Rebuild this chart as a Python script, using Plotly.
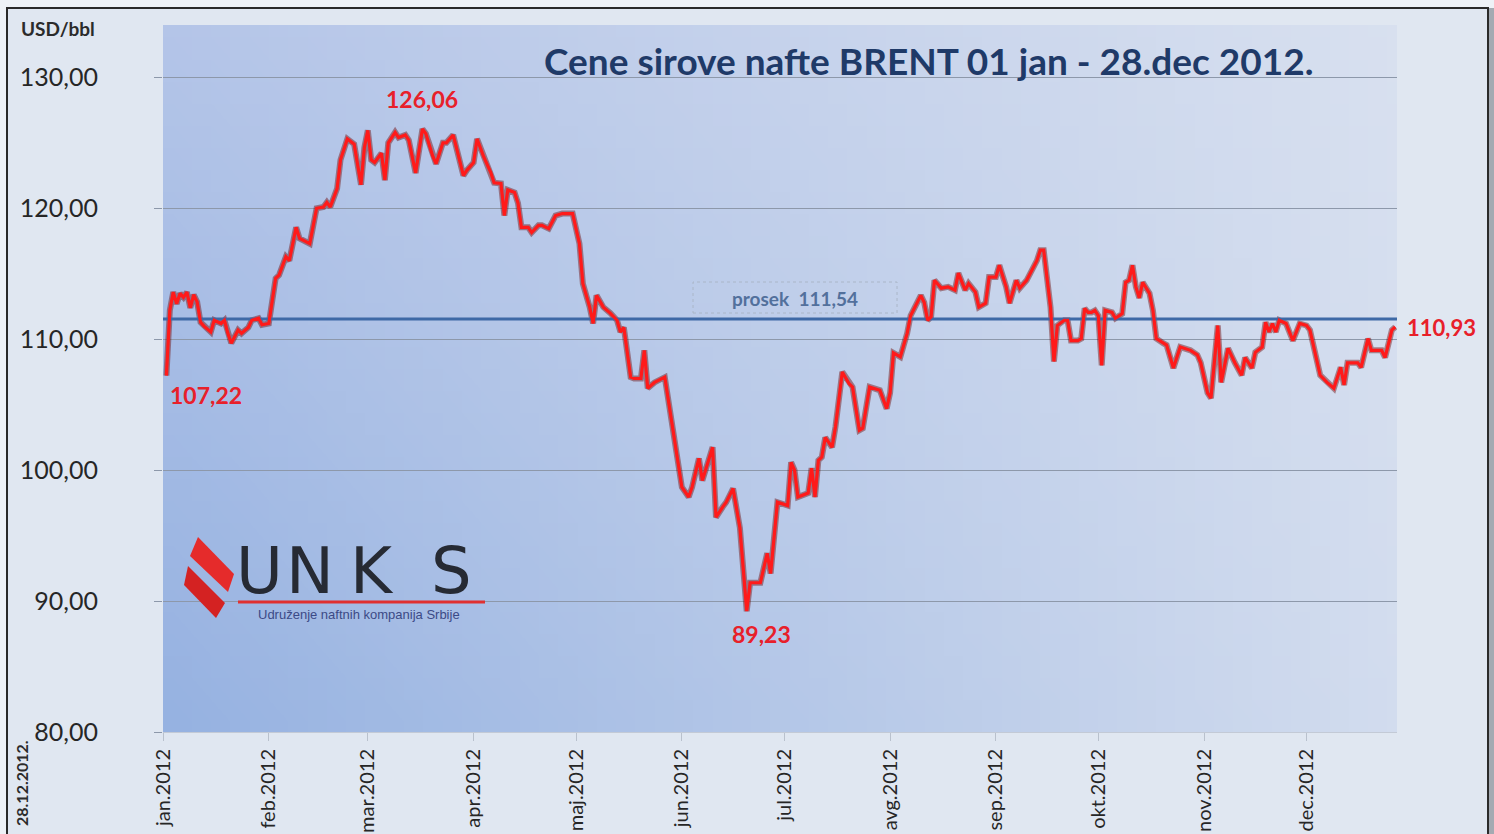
import zlib, struct, base64
import plotly.graph_objects as go

# ---------------- data ----------------
dates = [
    "2012-01-02","2012-01-03","2012-01-04","2012-01-05","2012-01-06","2012-01-07","2012-01-08","2012-01-09",
    "2012-01-10","2012-01-11","2012-01-12","2012-01-13","2012-01-15","2012-01-16","2012-01-18","2012-01-19",
    "2012-01-20","2012-01-21","2012-01-23","2012-01-24","2012-01-26","2012-01-27","2012-01-29","2012-01-30",
    "2012-02-01","2012-02-03","2012-02-04","2012-02-06","2012-02-07","2012-02-09","2012-02-10","2012-02-12",
    "2012-02-13","2012-02-15","2012-02-17","2012-02-18","2012-02-19","2012-02-21","2012-02-22","2012-02-24",
    "2012-02-26","2012-02-28","2012-02-29","2012-03-01","2012-03-02","2012-03-03","2012-03-05","2012-03-06",
    "2012-03-07","2012-03-09","2012-03-10","2012-03-12","2012-03-13","2012-03-15","2012-03-17","2012-03-18",
    "2012-03-20","2012-03-21","2012-03-23","2012-03-24","2012-03-26","2012-03-27","2012-03-29","2012-03-30",
    "2012-04-01","2012-04-02","2012-04-04","2012-04-06","2012-04-07","2012-04-09","2012-04-10","2012-04-11",
    "2012-04-13","2012-04-14","2012-04-15","2012-04-17","2012-04-18","2012-04-20","2012-04-21","2012-04-23",
    "2012-04-25","2012-04-27","2012-04-29","2012-04-30","2012-05-02","2012-05-03","2012-05-05","2012-05-06",
    "2012-05-07","2012-05-09","2012-05-11","2012-05-13","2012-05-14","2012-05-15","2012-05-17","2012-05-18",
    "2012-05-20","2012-05-21","2012-05-22","2012-05-24","2012-05-27","2012-05-29","2012-06-01","2012-06-03",
    "2012-06-04","2012-06-06","2012-06-07","2012-06-10","2012-06-11","2012-06-13","2012-06-14","2012-06-16",
    "2012-06-18","2012-06-20","2012-06-21","2012-06-24","2012-06-26","2012-06-27","2012-06-29","2012-07-02",
    "2012-07-03","2012-07-04","2012-07-05","2012-07-08","2012-07-09","2012-07-10","2012-07-11","2012-07-12",
    "2012-07-13","2012-07-15","2012-07-16","2012-07-18","2012-07-20","2012-07-21","2012-07-23","2012-07-24",
    "2012-07-26","2012-07-29","2012-07-31","2012-08-01","2012-08-02","2012-08-04","2012-08-06","2012-08-07",
    "2012-08-10","2012-08-11","2012-08-12","2012-08-13","2012-08-14","2012-08-16","2012-08-18","2012-08-20",
    "2012-08-21","2012-08-23","2012-08-24","2012-08-26","2012-08-27","2012-08-29","2012-08-30","2012-09-01",
    "2012-09-02","2012-09-04","2012-09-05","2012-09-07","2012-09-08","2012-09-10","2012-09-13","2012-09-14",
    "2012-09-15","2012-09-17","2012-09-18","2012-09-19","2012-09-21","2012-09-22","2012-09-23","2012-09-25",
    "2012-09-26","2012-09-27","2012-09-28","2012-09-29","2012-09-30","2012-10-01","2012-10-02","2012-10-03",
    "2012-10-05","2012-10-06","2012-10-08","2012-10-09","2012-10-10","2012-10-11","2012-10-12","2012-10-13",
    "2012-10-14","2012-10-16","2012-10-17","2012-10-18","2012-10-20","2012-10-21","2012-10-23","2012-10-25",
    "2012-10-28","2012-10-30","2012-10-31","2012-11-02","2012-11-03","2012-11-05","2012-11-06","2012-11-08",
    "2012-11-10","2012-11-12","2012-11-13","2012-11-15","2012-11-16","2012-11-18","2012-11-19","2012-11-20",
    "2012-11-21","2012-11-22","2012-11-23","2012-11-25","2012-11-27","2012-11-29","2012-12-01","2012-12-02",
    "2012-12-05","2012-12-07","2012-12-09","2012-12-11","2012-12-12","2012-12-13","2012-12-16","2012-12-17",
    "2012-12-19","2012-12-20","2012-12-23","2012-12-24","2012-12-26","2012-12-27",
]
prices = [
    107.22,112.2,113.6,112.7,113.5,113.2,113.6,112.4,
    113.4,112.85,111.3,111.0,110.55,111.45,111.2,111.45,
    110.45,109.7,110.7,110.45,110.9,111.45,111.6,111.1,
    111.2,114.65,114.9,116.3,116.0,118.55,117.7,117.4,
    117.3,120.0,120.1,120.45,120.1,121.5,123.7,125.3,
    124.9,121.8,124.65,125.95,123.7,123.5,124.2,122.15,
    125.0,125.8,125.4,125.6,125.2,122.7,126.06,125.7,
    124.0,123.4,125.0,125.0,125.6,124.6,122.5,122.9,
    123.5,125.3,123.9,122.75,121.95,121.9,119.45,121.4,
    121.2,120.4,118.55,118.55,118.15,118.7,118.7,118.45,
    119.45,119.6,119.6,119.6,117.3,114.25,112.45,111.2,
    113.35,112.45,112.0,111.45,110.55,110.9,107.1,107.0,
    107.0,109.15,106.25,106.7,107.1,103.8,98.7,97.95,
    98.7,100.9,99.2,101.75,96.4,97.2,97.55,98.6,
    95.6,89.23,91.4,91.4,93.65,92.1,97.55,97.3,
    100.6,100.0,97.95,98.25,100.15,97.95,100.75,101.0,
    102.5,101.75,103.3,107.5,106.6,106.35,103.05,103.2,
    106.35,106.1,104.7,105.9,108.95,108.65,110.45,111.8,
    113.35,112.8,111.45,111.7,114.5,113.9,114.0,113.75,
    115.05,113.75,114.25,113.6,112.45,112.75,114.75,114.75,
    115.65,114.0,112.75,114.5,113.9,114.5,116.0,116.8,
    116.8,112.45,108.3,111.05,111.45,111.45,109.9,109.9,
    110.05,112.35,112.05,112.05,112.2,111.8,108.0,112.2,
    112.05,111.6,111.95,114.35,114.5,115.65,114.0,113.15,
    114.35,113.5,112.2,110.05,109.7,109.55,107.8,109.4,
    109.15,108.8,108.2,105.9,105.5,111.05,106.7,109.3,
    108.2,107.25,108.6,107.8,109.0,109.4,111.3,110.55,
    111.2,110.55,111.45,111.2,109.9,111.2,111.05,110.7,
    107.25,106.7,106.25,107.85,106.5,108.2,108.2,107.85,
    110.05,109.15,109.15,108.6,110.7,110.93,
]
average = 111.54
month_ticks = ["2012-01-01","2012-02-01","2012-03-01","2012-04-01","2012-05-01","2012-06-01",
               "2012-07-01","2012-08-01","2012-09-01","2012-10-01","2012-11-01","2012-12-01"]
month_labels = ["jan.2012","feb.2012","mar.2012","apr.2012","maj.2012","jun.2012",
                "jul.2012","avg.2012","sep.2012","okt.2012","nov.2012","dec.2012"]
y_ticks = [80, 90, 100, 110, 120, 130]
x_range = ["2012-01-01", "2012-12-27 12:00"]
y_range = [80, 134]

title_text = "Cene sirove nafte BRENT 01 jan - 28.dec 2012."
avg_text = "prosek  111,54"

def fmt(v):
    return f"{v:.2f}".replace(".", ",")

# ---------------- layout geometry ----------------
W, H = 1494, 834
ML, MR, MT, MB = 163, 97, 25, 102
PW, PH = W - ML - MR, H - MT - MB

def px(x):
    return (x - ML) / PW

def py(y):
    return (H - MB - y) / PH

# gradient background image for the plot area (pure-python PNG)
def make_png(w, h, fn):
    raw = bytearray()
    for j in range(h):
        raw.append(0)
        for i in range(w):
            raw.extend(fn(i / (w - 1), j / (h - 1)))
    def chunk(t, d):
        c = struct.pack(">I", len(d)) + t + d
        return c + struct.pack(">I", zlib.crc32(t + d) & 0xFFFFFFFF)
    png = (b"\x89PNG\r\n\x1a\n"
           + chunk(b"IHDR", struct.pack(">IIBBBBB", w, h, 8, 2, 0, 0, 0))
           + chunk(b"IDAT", zlib.compress(bytes(raw), 9))
           + chunk(b"IEND", b""))
    return "data:image/png;base64," + base64.b64encode(png).decode()

TL, BL, TR, BR = (180, 197, 232), (150, 178, 225), (216, 224, 239), (210, 220, 238)
def grad(u, v):
    out = []
    for k in range(3):
        top = TL[k] * (1 - u) + TR[k] * u
        bot = BL[k] * (1 - u) + BR[k] * u
        out.append(int(round(top * (1 - v) + bot * v)))
    return bytes(out)

bg_img = make_png(64, 32, grad)

fig = go.Figure()

# shadow under the red price line
fig.add_trace(go.Scatter(x=dates, y=prices, mode="lines",
                         line=dict(color="rgba(110,10,10,0.45)", width=6),
                         hoverinfo="skip", showlegend=False))
# average line
fig.add_trace(go.Scatter(x=x_range, y=[average, average], mode="lines",
                         line=dict(color="#3e69a6", width=3),
                         hoverinfo="skip", showlegend=False))
# price line
fig.add_trace(go.Scatter(x=dates, y=prices, mode="lines",
                         line=dict(color="#ff1a1a", width=3.2),
                         showlegend=False, name="BRENT"))

FONT = "Lato, 'Open Sans', sans-serif"
red = "#e8202a"
annotations = []

imax = prices.index(max(prices))
imin = prices.index(min(prices))
annotations += [
    dict(x=dates[imax], y=prices[imax], text=f"<b>{fmt(prices[imax])}</b>", showarrow=False,
         xanchor="center", yanchor="bottom", yshift=14, font=dict(family=FONT, size=23, color=red)),
    dict(x=dates[0], y=prices[0], text=f"<b>{fmt(prices[0])}</b>", showarrow=False,
         xanchor="left", yanchor="top", xshift=2, yshift=-3, font=dict(family=FONT, size=23, color=red)),
    dict(x=dates[imin], y=prices[imin], text=f"<b>{fmt(prices[imin])}</b>", showarrow=False,
         xanchor="center", yanchor="top", xshift=15, yshift=-7, font=dict(family=FONT, size=23, color=red)),
    dict(x=dates[-1], y=prices[-1], text=f"<b>{fmt(prices[-1])}</b>", showarrow=False,
         xanchor="left", yanchor="middle", xshift=10, yshift=0, font=dict(family=FONT, size=22, color=red)),
]
# title
annotations.append(dict(xref="paper", yref="paper", x=px(929), y=py(60), text=f"<b>{title_text}</b>",
                        showarrow=False, xanchor="center", yanchor="middle",
                        font=dict(family=FONT, size=37, color="#1f3a68")))
# average label
annotations.append(dict(xref="paper", yref="paper", x=px(795), y=py(298), text=f"<b>{avg_text}</b>",
                        showarrow=False, xanchor="center", yanchor="middle",
                        font=dict(family=FONT, size=19, color="#52709c")))
# unit + date
annotations.append(dict(xref="paper", yref="paper", x=px(19), y=py(28), text="<b>USD/bbl</b>",
                        showarrow=False, xanchor="left", yanchor="middle",
                        font=dict(family=FONT, size=19, color="#2b2b2b")))
annotations.append(dict(xref="paper", yref="paper", x=px(21), y=py(783), text="<b>28.12.2012.</b>",
                        showarrow=False, xanchor="center", yanchor="middle", textangle=-90,
                        font=dict(family=FONT, size=16, color="#2b2b2b")))
# logo letters
for letter, cx in zip("UNKS", [259, 310, 372, 451]):
    annotations.append(dict(xref="paper", yref="paper", x=px(cx), y=py(571), text=letter,
                            showarrow=False, xanchor="center", yanchor="middle",
                            font=dict(family="DejaVu Sans, Liberation Sans, sans-serif", size=64, color="#262a33")))
annotations.append(dict(xref="paper", yref="paper", x=px(359), y=py(614),
                        text="Udruženje naftnih kompanija Srbije", showarrow=False,
                        xanchor="center", yanchor="middle",
                        font=dict(family="Liberation Sans, Arial, sans-serif", size=13, color="#3c4a86")))

def path(points):
    return "M " + " L ".join(f"{px(a):.5f},{py(b):.5f}" for a, b in points) + " Z"

shapes = [
    # light outer strips
    dict(type="rect", xref="paper", yref="paper", x0=px(-5), x1=px(W + 5), y0=py(8), y1=py(-5),
         fillcolor="#eef2f7", line=dict(width=0), layer="below"),
    dict(type="rect", xref="paper", yref="paper", x0=px(-5), x1=px(6), y0=py(H + 5), y1=py(-5),
         fillcolor="#eef2f7", line=dict(width=0), layer="below"),
    dict(type="rect", xref="paper", yref="paper", x0=px(1489), x1=px(W + 5), y0=py(H + 5), y1=py(8),
         fillcolor="#a4aab2", line=dict(width=0), layer="below"),
    # dark frame
    dict(type="rect", xref="paper", yref="paper", x0=px(7), x1=px(1488), y0=py(H + 20), y1=py(8),
         fillcolor="rgba(0,0,0,0)", line=dict(color="#2a2a2a", width=2), layer="below"),
    # average label box
    dict(type="rect", xref="paper", yref="paper", x0=px(693), x1=px(897), y0=py(313), y1=py(282),
         fillcolor="rgba(0,0,0,0)", line=dict(color="#aab6c8", width=1, dash="dot"), layer="above"),
    # logo flame
    dict(type="path", xref="paper", yref="paper",
         path=path([(198, 537), (234, 574), (228, 592), (190, 556)]),
         fillcolor="#e52b2b", line=dict(width=0), layer="above"),
    dict(type="path", xref="paper", yref="paper",
         path=path([(188, 566), (225, 603), (216, 618), (184, 585)]),
         fillcolor="#d42222", line=dict(width=0), layer="above"),
    # logo underline
    dict(type="line", xref="paper", yref="paper", x0=px(238), x1=px(485), y0=py(602), y1=py(602),
         line=dict(color="#e03030", width=3), layer="above"),
]

fig.update_layout(
    width=W, height=H, autosize=False,
    margin=dict(l=ML, r=MR, t=MT, b=MB, pad=0),
    paper_bgcolor="#e0e7f1", plot_bgcolor="rgba(0,0,0,0)",
    separators=", ",
    showlegend=False,
    images=[dict(source=bg_img, xref="paper", yref="paper", x=0, y=1, sizex=1, sizey=1,
                 sizing="stretch", layer="below", xanchor="left", yanchor="top")],
    xaxis=dict(type="date", range=x_range, tickvals=month_ticks, ticktext=month_labels,
               tickangle=-90, ticks="outside", ticklen=8, tickcolor="#b9c1cd",
               showline=True, linecolor="#c3cad6", linewidth=1, showgrid=False, zeroline=False,
               tickfont=dict(family=FONT, size=20, color="#262626"), automargin=False),
    yaxis=dict(range=y_range, tickvals=y_ticks, tickformat=".2f", ticks="outside", ticklen=8,
               tickcolor="#8d98aa", showgrid=True, gridcolor="#8d98aa", gridwidth=1,
               zeroline=False, showline=False, ticklabelstandoff=51,
               tickfont=dict(family=FONT, size=25, color="#262626"), automargin=False),
    annotations=annotations,
    shapes=shapes,
)

fig.write_html("out.html", config={"displayModeBar": False},
               post_script="document.body.style.margin='0';document.body.style.overflow='hidden';")
